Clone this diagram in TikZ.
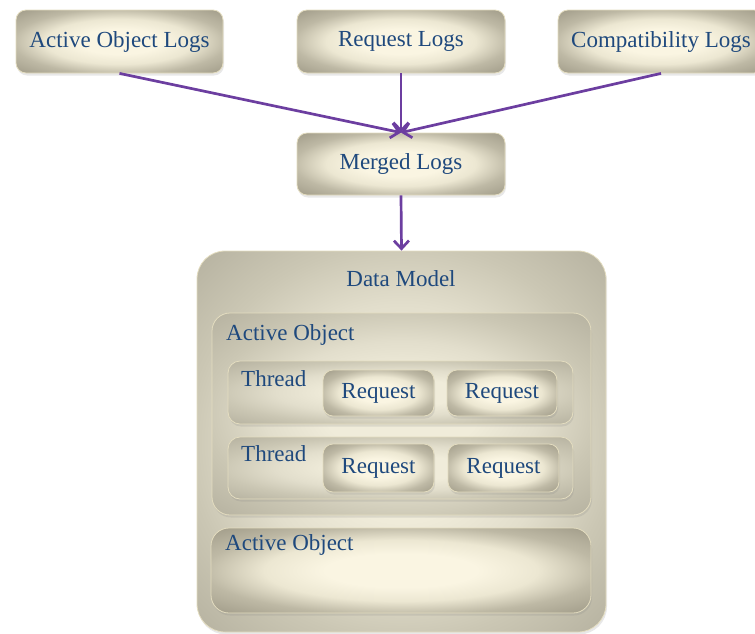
\documentclass[tikz,border=0pt]{standalone}
\usepackage{fontspec}
\setmainfont{Liberation Serif}
\usetikzlibrary{arrows.meta,shadows}
\definecolor{txt}{RGB}{31,73,125}
\definecolor{arrc}{RGB}{108,62,160}
\definecolor{bord}{RGB}{228,221,192}
\definecolor{shIn}{RGB}{250,245,226}
\definecolor{shMid}{RGB}{236,231,210}
\definecolor{shOut}{RGB}{190,185,165}
\definecolor{shDark}{RGB}{165,160,141}
\definecolor{bgIn}{RGB}{240,236,218}
\definecolor{bgMid}{RGB}{226,222,204}
\definecolor{bgOut}{RGB}{203,199,180}
\definecolor{bgDark}{RGB}{185,181,163}
\pgfdeclareradialshading{boxshade}{\pgfpoint{0bp}{0bp}}{color(0bp)=(shIn); color(10bp)=(shIn); color(18bp)=(shMid); color(26bp)=(shOut); color(34bp)=(shDark); color(50bp)=(shDark)}
\pgfdeclareradialshading{bigshade}{\pgfpoint{0bp}{0bp}}{color(0bp)=(bgIn); color(10bp)=(bgIn); color(18bp)=(bgMid); color(26bp)=(bgOut); color(34bp)=(bgDark); color(50bp)=(bgDark)}
\begin{document}
\begin{tikzpicture}[x=1pt,y=-1pt,
  every node/.style={font=\fontsize{23}{27}\selectfont, text=txt},
  panel/.style={draw=bord, line width=0.8pt, shading=boxshade, inner sep=0pt,
    drop shadow={opacity=0.18, shadow xshift=1pt, shadow yshift=-2.5pt}},
  bigpanel/.style={panel, shading=bigshade},
  lbl/.style={anchor=base west, inner sep=0pt},
  arr/.style={draw=arrc, line width=2.7pt, -{Straight Barb[length=8pt,width=15pt]}}
]
\useasboundingbox (0,0) rectangle (755,633);
% top boxes
\node[panel, rounded corners=10pt, minimum width=207pt, minimum height=63pt] (aol) at (119.5,41.5) {Active Object Logs};
\node[panel, rounded corners=10pt, minimum width=208pt, minimum height=63pt] (rql) at (401,41.5) {Request Logs};
\node[panel, rounded corners=10pt, minimum width=206pt, minimum height=63pt] (cpl) at (661,41.5) {Compatibility Logs};
\node[panel, rounded corners=10pt, minimum width=208pt, minimum height=62pt] (mrg) at (401,164) {Merged Logs};
% data model
\node[bigpanel, rounded corners=28pt, minimum width=409pt, minimum height=381pt] (dm) at (401.5,441.5) {};
\node[anchor=base, inner sep=0pt] (dmlbl) at (401,286) {Data Model};
% active object 1
\node[bigpanel, rounded corners=18pt, minimum width=379pt, minimum height=202pt] (ao1) at (401.5,414) {};
\node[lbl] (ao1lbl) at (226,340) {Active Object};
% thread 1
\node[bigpanel, rounded corners=12pt, minimum width=345pt, minimum height=63pt] (th1) at (400.5,392.5) {};
\node[lbl] (th1lbl) at (241,386) {Thread};
\node[panel, rounded corners=10pt, minimum width=111pt, minimum height=46pt] (r1a) at (378.5,393) {Request};
\node[panel, rounded corners=10pt, minimum width=110pt, minimum height=46pt] (r1b) at (502,393) {Request};
% thread 2
\node[bigpanel, rounded corners=12pt, minimum width=345pt, minimum height=62pt] (th2) at (400.5,468) {};
\node[lbl] (th2lbl) at (241,461) {Thread};
\node[panel, rounded corners=10pt, minimum width=111pt, minimum height=48pt] (r2a) at (378.5,468) {Request};
\node[panel, rounded corners=10pt, minimum width=111pt, minimum height=48pt] (r2b) at (503.5,468) {Request};
% active object 2
\node[panel, rounded corners=18pt, minimum width=380pt, minimum height=85pt] (ao2) at (401,570.5) {};
\node[lbl] (ao2lbl) at (225,550) {Active Object};
% arrows
\draw[arr] (aol.south) -- (mrg.north);
\draw[arr] (rql.south) -- (mrg.north);
\draw[arr] (cpl.south) -- (mrg.north);
\draw[arr] (mrg.south) -- (dm.north);
\end{tikzpicture}
\end{document}
